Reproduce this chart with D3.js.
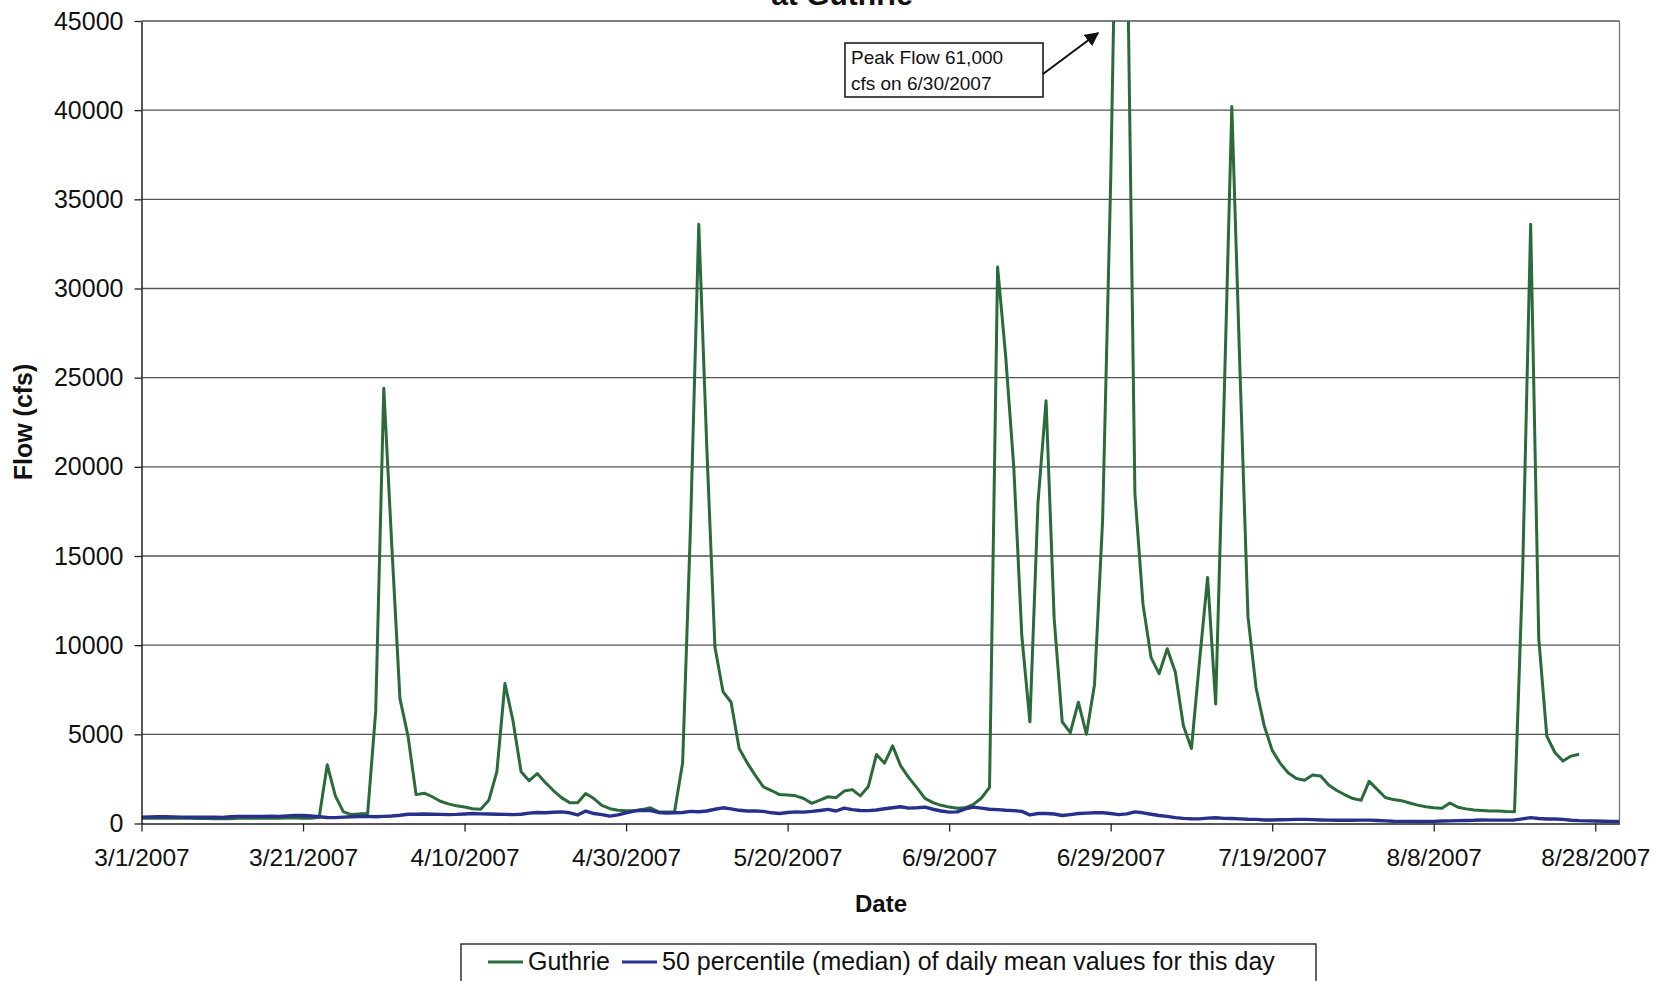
<!DOCTYPE html>
<html><head><meta charset="utf-8">
<script src="https://cdn.jsdelivr.net/npm/d3@7"></script>
<style>
html,body{margin:0;padding:0;background:#fff;}
svg{display:block;}
text{font-family:"Liberation Sans",Arial,Helvetica,sans-serif;fill:#111;}
</style></head><body>
<svg id="chart" width="1656" height="981"></svg>
<script>
// ---------------- data ----------------
const startDate = "3/1/2007";
const endDate = "8/31/2007";
const seriesNames = ["Guthrie", "50 percentile (median) of daily mean values for this day"];
// daily mean flow (cfs) at Guthrie, one value per day from 3/1/2007
const guthrieFlow = [
  300, 290, 290, 300, 310, 300, 290, 280, 280, 270,
  260, 270, 290, 300, 300, 310, 300, 300, 310, 310,
  300, 290, 350, 3300, 1550, 650, 500, 540, 550, 6300,
  24400, 15500, 7000, 4900, 1620, 1700, 1500, 1250, 1100, 990,
  920, 830, 800, 1300, 2900, 7850, 5750, 2900, 2400, 2800,
  2300, 1850, 1450, 1170, 1160, 1680, 1400, 1020, 830, 740,
  720, 710, 780, 880, 650, 650, 660, 3400, 17000, 33600,
  21000, 9900, 7400, 6800, 4200, 3400, 2700, 2050, 1850, 1620,
  1600, 1550, 1400, 1130, 1310, 1500, 1450, 1820, 1900, 1550,
  2080, 3870, 3380, 4350, 3230, 2570, 2010, 1410, 1170, 1020,
  920, 860, 880, 1070, 1430, 2030, 31200, 26200, 20000, 10500,
  5700, 18000, 23700, 11500, 5700, 5100, 6800, 5000, 7800, 17000,
  36000, 61000, 51500, 18500, 12300, 9300, 8400, 9800, 8500, 5500,
  4200, 9100, 13800, 6700, 23000, 40200, 25500, 11600, 7600, 5500,
  4100, 3370, 2830, 2520, 2430, 2720, 2670, 2160, 1850, 1610,
  1400, 1300, 2360, 1910, 1460, 1340, 1280, 1150, 1030, 940,
  880, 850, 1150, 910, 820, 760, 730, 700, 700, 670,
  660, 14000, 33600, 10400, 4900, 3980, 3500, 3780, 3880
];
// median of daily mean values for each day from 3/1
const medianFlow = [
  360, 370, 380, 380, 370, 360, 350, 350, 360, 350,
  340, 380, 400, 400, 390, 400, 410, 400, 420, 450,
  450, 420, 380, 340, 330, 360, 380, 390, 400, 380,
  400, 420, 460, 520, 520, 530, 520, 510, 500, 510,
  530, 560, 540, 530, 520, 510, 500, 520, 580, 620,
  600, 630, 650, 600, 480, 700, 560, 500, 410, 480,
  600, 700, 740, 720, 620, 580, 600, 620, 680, 660,
  700, 800, 880, 820, 740, 700, 700, 680, 600, 560,
  620, 650, 640, 680, 730, 790, 700, 860, 780, 730,
  720, 760, 830, 880, 940, 860, 880, 920, 800, 700,
  640, 650, 820, 920, 860, 800, 780, 740, 720, 680,
  480, 560, 560, 530, 450, 500, 560, 580, 600, 600,
  560, 500, 540, 650, 600, 520, 450, 400, 330, 290,
  270, 260, 300, 320, 290, 280, 260, 240, 230, 200,
  200, 210, 220, 230, 230, 220, 200, 190, 180, 180,
  180, 190, 190, 170, 150, 130, 120, 120, 110, 110,
  120, 140, 150, 160, 170, 180, 200, 190, 190, 190,
  200, 260, 330, 280, 250, 250, 230, 180, 160, 150,
  140, 130, 120, 120
];
const yTickValues = [0, 5000, 10000, 15000, 20000, 25000, 30000, 35000, 40000, 45000];
const xTickLabels = ["3/1/2007", "3/21/2007", "4/10/2007", "4/30/2007", "5/20/2007",
                     "6/9/2007", "6/29/2007", "7/19/2007", "8/8/2007", "8/28/2007"];
const titleText = "at Guthrie";
const xAxisTitle = "Date";
const yAxisTitle = "Flow (cfs)";
const annotationLines = ["Peak Flow 61,000", "cfs on 6/30/2007"];

// ---------------- layout ----------------
const parse = d3.timeParse("%m/%d/%Y");
const t0 = parse(startDate), t1 = parse(endDate);
const plot = {left: 141.5, right: 1619.5, top: 21, bottom: 823.5};
const colors = {guthrie: "#2b6a3a", median: "#27318c", grid: "#555", axis: "#222"};

const svg = d3.select("#chart");
const x = d3.scaleTime().domain([t0, t1]).range([plot.left, plot.right]);
const y = d3.scaleLinear().domain([0, 45000]).range([plot.bottom, plot.top]);

const guthrie = guthrieFlow.map((v, i) => ({date: d3.timeDay.offset(t0, i), v}));
const median = medianFlow.map((v, i) => ({date: d3.timeDay.offset(t0, i), v}));

// title (partially cut off at top, as in the reference)
svg.append("text").attr("x", 842).attr("y", 5).attr("text-anchor", "middle")
  .attr("font-size", 30).attr("font-weight", "bold").text(titleText);

// plot background
svg.append("rect").attr("x", plot.left).attr("y", plot.top)
  .attr("width", plot.right - plot.left).attr("height", plot.bottom - plot.top)
  .attr("fill", "#fff");

// gridlines
svg.append("g").selectAll("line").data(yTickValues.filter(d => d > 0)).join("line")
  .attr("x1", plot.left).attr("x2", plot.right)
  .attr("y1", d => y(d)).attr("y2", d => y(d))
  .attr("stroke", colors.grid).attr("stroke-width", 1.3);

// right border
svg.append("line").attr("x1", plot.right).attr("x2", plot.right)
  .attr("y1", plot.top).attr("y2", plot.bottom)
  .attr("stroke", "#777").attr("stroke-width", 1.3);

// clip
svg.append("clipPath").attr("id", "clip").append("rect")
  .attr("x", plot.left).attr("y", plot.top)
  .attr("width", plot.right - plot.left).attr("height", plot.bottom - plot.top);

const line = d3.line().x(d => x(d.date)).y(d => y(d.v));
const series = svg.append("g").attr("clip-path", "url(#clip)");
series.append("path").datum(guthrie).attr("d", line).attr("fill", "none")
  .attr("stroke", colors.guthrie).attr("stroke-width", 3).attr("stroke-linejoin", "round");
series.append("path").datum(median).attr("d", line).attr("fill", "none")
  .attr("stroke", colors.median).attr("stroke-width", 3.4).attr("stroke-linejoin", "round");

// y axis
const yAxis = svg.append("g").attr("transform", `translate(${plot.left},0)`)
  .call(d3.axisLeft(y).tickValues(yTickValues).tickFormat(d3.format("d"))
    .tickSize(7).tickSizeOuter(0).tickPadding(11));
yAxis.select(".domain").attr("stroke", colors.axis).attr("stroke-width", 1.5);
yAxis.selectAll(".tick line").attr("stroke", colors.axis).attr("stroke-width", 1.3);
yAxis.selectAll(".tick text").attr("font-size", 25).attr("font-family", null).attr("fill", "#111");

// x axis
const xTickDates = xTickLabels.map(parse);
const xAxis = svg.append("g").attr("transform", `translate(0,${plot.bottom})`)
  .call(d3.axisBottom(x).tickValues(xTickDates).tickFormat((d, i) => xTickLabels[i])
    .tickSize(8).tickSizeOuter(0).tickPadding(17.5));
xAxis.select(".domain").attr("stroke", colors.axis).attr("stroke-width", 1.5);
xAxis.selectAll(".tick line").attr("stroke", colors.axis).attr("stroke-width", 1.3);
xAxis.selectAll(".tick text").attr("font-size", 24.5).attr("font-family", null).attr("fill", "#111");

// axis titles
svg.append("text").attr("x", 881).attr("y", 912).attr("text-anchor", "middle")
  .attr("font-size", 24).attr("font-weight", "bold").text(xAxisTitle);
svg.append("text").attr("transform", "translate(32,422) rotate(-90)").attr("text-anchor", "middle")
  .attr("font-size", 25).attr("font-weight", "bold").text(yAxisTitle);

// annotation
const ann = svg.append("g");
ann.append("rect").attr("x", 845).attr("y", 43).attr("width", 198).attr("height", 54)
  .attr("fill", "#fff").attr("stroke", "#111").attr("stroke-width", 1.5);
ann.selectAll("text").data(annotationLines).join("text")
  .attr("x", 851).attr("y", (d, i) => 64 + i * 26).attr("font-size", 19).text(d => d);
svg.append("defs").append("marker").attr("id", "arrow").attr("viewBox", "0 0 10 10")
  .attr("refX", 9).attr("refY", 5).attr("markerWidth", 7).attr("markerHeight", 7)
  .attr("orient", "auto").append("path").attr("d", "M0,0 L10,5 L0,10 z").attr("fill", "#111");
ann.append("line").attr("x1", 1043).attr("y1", 74).attr("x2", 1098).attr("y2", 33)
  .attr("stroke", "#111").attr("stroke-width", 2).attr("marker-end", "url(#arrow)");

// legend
const leg = svg.append("g");
leg.append("rect").attr("x", 461).attr("y", 944).attr("width", 855).attr("height", 60)
  .attr("fill", "#fff").attr("stroke", "#333").attr("stroke-width", 1.5);
const legItems = [
  {name: seriesNames[0], color: colors.guthrie, x1: 488, x2: 523, tx: 528},
  {name: seriesNames[1], color: colors.median, x1: 622, x2: 657, tx: 662}
];
legItems.forEach(it => {
  leg.append("line").attr("x1", it.x1).attr("x2", it.x2).attr("y1", 962).attr("y2", 962)
    .attr("stroke", it.color).attr("stroke-width", 3);
  leg.append("text").attr("x", it.tx).attr("y", 970).attr("font-size", 25).text(it.name);
});
</script>
</body></html>
